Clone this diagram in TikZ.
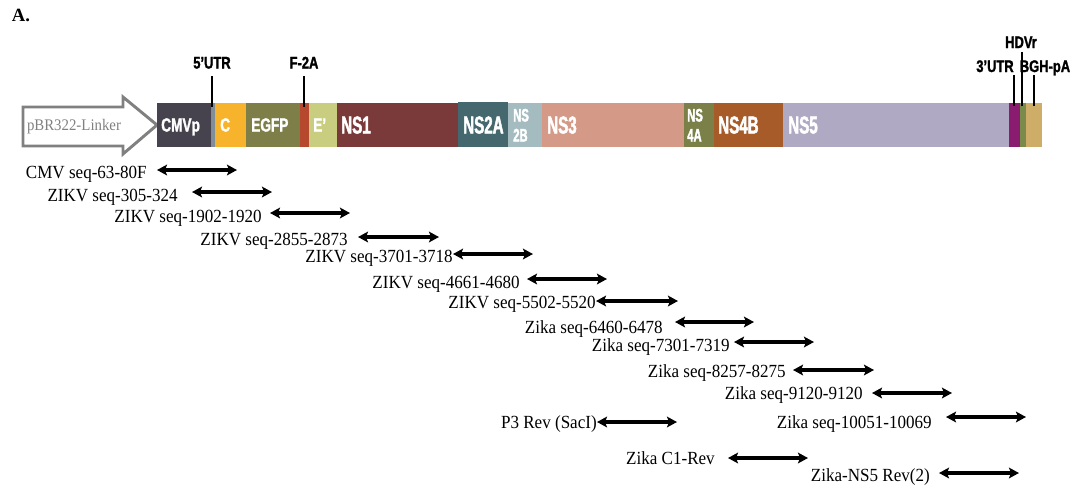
\documentclass[tikz,border=0pt]{standalone}
\usepackage{fontspec}
\setmainfont{Liberation Serif}
\newfontfamily\primfont[FakeStretch=0.92]{Liberation Serif}
\newfontfamily\bigbar[FakeStretch=0.62,FakeBold=2]{Liberation Sans}
\newfontfamily\midbar[FakeStretch=0.72,FakeBold=1.5]{Liberation Sans}
\newfontfamily\topfont[FakeStretch=0.77,FakeBold=1.5]{Liberation Sans}
\usetikzlibrary{arrows.meta}
\definecolor{cCMV}{HTML}{46434E}
\definecolor{cUTRa}{HTML}{7F8E99}
\definecolor{cC}{HTML}{F7B32B}
\definecolor{cEGFP}{HTML}{7E7E48}
\definecolor{cF}{HTML}{B5482D}
\definecolor{cE}{HTML}{C9CD7F}
\definecolor{cNSa}{HTML}{7B3A3A}
\definecolor{cNSb}{HTML}{44686E}
\definecolor{cNSc}{HTML}{A4BCBF}
\definecolor{cNSd}{HTML}{D49A87}
\definecolor{cNSe}{HTML}{7A8047}
\definecolor{cNSf}{HTML}{A65B28}
\definecolor{cNSg}{HTML}{AFA9C3}
\definecolor{cUTRb}{HTML}{8A1C70}
\definecolor{cHDV}{HTML}{7A8A4A}
\definecolor{cBGH}{HTML}{CDAD68}
\definecolor{cArrow}{HTML}{808080}
\begin{document}
\begin{tikzpicture}[x=0.75pt,y=-0.75pt,
  biglab/.style={anchor=base west, inner sep=0, text=white, font=\bigbar\bfseries\fontsize{18.3}{18}\selectfont},
  midlab/.style={anchor=base west, inner sep=0, text=white, font=\midbar\bfseries\fontsize{14.2}{14}\selectfont},
  twolab/.style={anchor=base west, inner sep=0, text=white, font=\bigbar\bfseries\fontsize{13.6}{14}\selectfont},
  toplab/.style={anchor=base, inner sep=0, font=\topfont\bfseries\fontsize{12.6}{13}\selectfont},
  tick/.style={line width=2.1pt},
  prim/.style={anchor=base east, inner sep=0, font=\primfont\fontsize{13.9}{14}\selectfont},
  pa/.style={{Stealth[length=7.5pt,width=8pt,inset=1.5pt]}-{Stealth[length=7.5pt,width=8pt,inset=1.5pt]}, line width=2.4pt}]
\useasboundingbox (0,0) rectangle (1075,490);

% panel label
\node[inner sep=0, font=\bfseries\fontsize{14}{14}\selectfont] (panelA) at (21,15) {A.};

% pBR322 linker arrow
\draw[cArrow, line width=2.2pt, line join=miter] (23,107) -- (123,107) -- (123,97) -- (157,125) -- (123,154) -- (123,146) -- (23,146) -- cycle;
\node[inner sep=0, text=cArrow, font=\primfont\fontsize{12.1}{12}\selectfont] (linker) at (74,127) {pBR322-Linker};

% genome bar
\fill[cCMV] (157,103) rectangle (211,147);
\fill[cUTRa] (211,103) rectangle (215,147);
\fill[cC] (215,103) rectangle (246,147);
\fill[cEGFP] (246,103) rectangle (300,147);
\fill[cF] (300,103) rectangle (309,147);
\fill[cE] (309,103) rectangle (337,147);
\fill[cNSa] (337,103) rectangle (458,147);
\fill[cNSb] (458,102) rectangle (508,147);
\fill[cNSc] (508,103) rectangle (542,147);
\fill[cNSd] (542,103) rectangle (684,147);
\fill[cNSe] (684,103) rectangle (714,147);
\fill[cNSf] (714,103) rectangle (783,147);
\fill[cNSg] (783,103) rectangle (1009,147);
\fill[cUTRb] (1009,103) rectangle (1020,147);
\fill[cHDV] (1020,103) rectangle (1026,147);
\fill[cBGH] (1026,103) rectangle (1042,147);

% bar labels
\node[midlab] (lcmv) at (161,131.5) {CMVp};
\node[midlab] (lc) at (220,131.5) {C};
\node[midlab] (legfp) at (251,131.5) {EGFP};
\node[midlab] (le) at (313,131.5) {E’};
\node[biglab] (lns1) at (341,133.5) {NS1};
\node[biglab] (lns2a) at (463,133.5) {NS2A};
\node[twolab] (lns2ba) at (513,121.5) {NS};
\node[twolab] (lns2bb) at (513,141.5) {2B};
\node[biglab] (lns3) at (547,133.5) {NS3};
\node[twolab] (lns4aa) at (687,121.5) {NS};
\node[twolab] (lns4ab) at (687,141.5) {4A};
\node[biglab] (lns4b) at (718,133.5) {NS4B};
\node[biglab] (lns5) at (788,133.5) {NS5};

% top labels and ticks
\node[toplab] (utr5) at (212,68.5) {5’UTR};
\node[toplab] (f2a) at (304,68.5) {F-2A};
\node[toplab] (hdv) at (1021,48) {HDVr};
\node[toplab] (utr3) at (995,72) {3’UTR};
\node[toplab] (bgh) at (1045,72) {BGH-pA};
\coordinate (t1a) at (212,76); \coordinate (t1b) at (212,107);
\coordinate (t2a) at (304,76); \coordinate (t2b) at (304,107);
\coordinate (t3a) at (1014,75); \coordinate (t3b) at (1014,106);
\coordinate (t4a) at (1022,52); \coordinate (t4b) at (1022,106);
\coordinate (t5a) at (1034,75); \coordinate (t5b) at (1034,106);
\draw[tick] (t1a) -- (t1b);
\draw[tick] (t2a) -- (t2b);
\draw[tick] (t3a) -- (t3b);
\draw[tick] (t4a) -- (t4b);
\draw[tick] (t5a) -- (t5b);

% primers
\foreach \n/\lab/\rx/\by/\xa/\xb/\ay in {
  1/CMV seq-63-80F/147/178/157/237/170,
  2/ZIKV seq-305-324/178/201/192/272/192,
  3/ZIKV seq-1902-1920/262/222/270/350/213,
  4/ZIKV seq-2855-2873/348/245/358/439/237,
  5/ZIKV seq-3701-3718/453/262/453/533/254,
  6/ZIKV seq-4661-4680/520/288/527/607/279,
  7/ZIKV seq-5502-5520/596/308/596/678/301,
  8/Zika seq-6460-6478/663/333/675/754/322,
  9/Zika seq-7301-7319/730/351/734/814/342,
  10/Zika seq-8257-8275/786/377/793/874/370,
  11/Zika seq-9120-9120/863/399/872/952/393,
  12/P3 Rev (SacI)/597/428/597/677/422,
  13/Zika seq-10051-10069/932/428/946/1026/417,
  14/Zika C1-Rev/715/464/728/808/458,
  15/Zika-NS5 Rev(2)/930/481/939/1019/473}
{
  \node[prim] (p\n) at (\rx,\by) {\lab};
  \coordinate (pa\n) at (\xa,\ay);
  \coordinate (pb\n) at (\xb,\ay);
  \draw[pa] (pa\n) -- (pb\n);
}
\end{tikzpicture}
\end{document}
